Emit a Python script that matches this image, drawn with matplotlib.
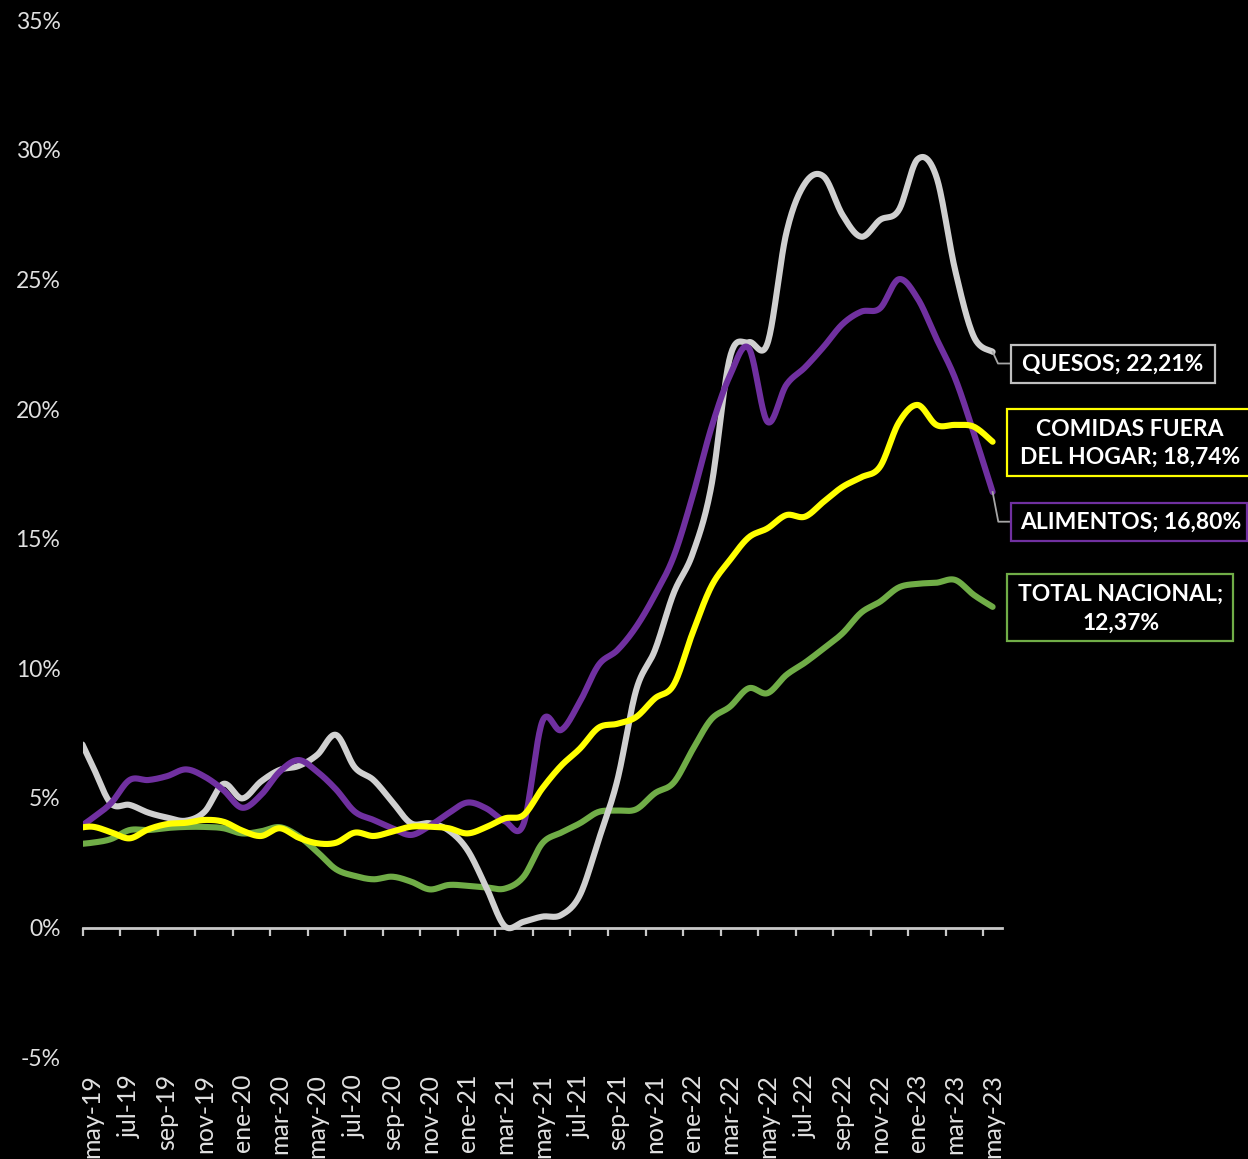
import numpy as np
import matplotlib
matplotlib.use("Agg")
import matplotlib.pyplot as plt
from matplotlib.patches import Rectangle
from matplotlib.lines import Line2D

# ---------------- data ----------------
months = ['abr-19',
          'may-19', 'jun-19', 'jul-19', 'ago-19', 'sep-19', 'oct-19', 'nov-19', 'dic-19',
          'ene-20', 'feb-20', 'mar-20', 'abr-20', 'may-20', 'jun-20', 'jul-20', 'ago-20',
          'sep-20', 'oct-20', 'nov-20', 'dic-20', 'ene-21', 'feb-21', 'mar-21', 'abr-21',
          'may-21', 'jun-21', 'jul-21', 'ago-21', 'sep-21', 'oct-21', 'nov-21', 'dic-21',
          'ene-22', 'feb-22', 'mar-22', 'abr-22', 'may-22', 'jun-22', 'jul-22', 'ago-22',
          'sep-22', 'oct-22', 'nov-22', 'dic-22', 'ene-23', 'feb-23', 'mar-23', 'abr-23',
          'may-23']

quesos = [7.8, 6.28, 4.79, 4.73, 4.43, 4.24, 4.12, 4.47, 5.54, 4.98, 5.63, 6.08, 6.23,
          6.66, 7.43, 6.18, 5.69, 4.85, 4.02, 4.02, 3.75, 3.0, 1.57, 0.05, 0.22, 0.42,
          0.48, 1.25, 3.38, 5.69, 9.16, 10.7, 12.9, 14.4, 17.0, 22.0, 22.58, 22.54,
          26.78, 28.71, 28.97, 27.49, 26.65, 27.3, 27.68, 29.64, 28.97, 25.37, 22.79, 22.21]

alimentos = [3.7, 4.21, 4.79, 5.69, 5.69, 5.84, 6.1, 5.82, 5.3, 4.62, 5.11, 6.01, 6.46,
             6.01, 5.33, 4.47, 4.15, 3.83, 3.57, 3.92, 4.41, 4.82, 4.6, 4.1, 4.0, 7.95,
             7.62, 8.71, 10.13, 10.7, 11.6, 12.83, 14.31, 16.62, 19.26, 21.3, 22.35, 19.51,
             20.93, 21.61, 22.41, 23.28, 23.76, 23.89, 25.01, 24.27, 22.73, 21.19, 19.07, 16.80]

comidas = [3.8, 3.89, 3.68, 3.44, 3.79, 3.99, 4.04, 4.15, 4.08, 3.74, 3.53, 3.83, 3.47,
           3.25, 3.27, 3.66, 3.53, 3.7, 3.89, 3.89, 3.83, 3.63, 3.87, 4.21, 4.34, 5.37,
           6.24, 6.9, 7.71, 7.86, 8.12, 8.84, 9.36, 11.35, 13.15, 14.18, 15.05, 15.4,
           15.91, 15.85, 16.43, 17.0, 17.37, 17.78, 19.48, 20.16, 19.39, 19.39, 19.32, 18.74]

total = [3.2, 3.27, 3.41, 3.76, 3.76, 3.84, 3.88, 3.88, 3.83, 3.63, 3.71, 3.87, 3.53,
         2.92, 2.25, 1.99, 1.86, 1.96, 1.77, 1.47, 1.64, 1.61, 1.55, 1.5, 1.96, 3.25,
         3.66, 4.02, 4.46, 4.51, 4.56, 5.18, 5.59, 6.85, 8.03, 8.52, 9.23, 9.04, 9.74,
         10.22, 10.77, 11.35, 12.15, 12.57, 13.12, 13.26, 13.3, 13.41, 12.83, 12.37]

label_quesos = "QUESOS; 22,21%"
label_comidas = ["COMIDAS FUERA", "DEL HOGAR; 18,74%"]
label_alimentos = "ALIMENTOS; 16,80%"
label_total = ["TOTAL NACIONAL;", "12,37%"]

yticks = [-5, 0, 5, 10, 15, 20, 25, 30, 35]

# ---------------- helpers ----------------
W, H = 1248, 1159
FONT = ['Lato', 'DejaVu Sans']


def smooth(x, y, n=24):
    """Excel-like smoothed line (Catmull-Rom as cubic Bezier)."""
    x = np.asarray(x, float)
    y = np.asarray(y, float)
    P = np.column_stack([x, y])
    P = np.vstack([P[0], P, P[-1]])
    out = []
    t = np.linspace(0, 1, n, endpoint=False)[:, None]
    for k in range(1, len(P) - 2):
        p0, p1, p2, p3 = P[k - 1], P[k], P[k + 1], P[k + 2]
        c1 = p1 + (p2 - p0) / 6.0
        c2 = p2 - (p3 - p1) / 6.0
        seg = ((1 - t) ** 3) * p1 + 3 * ((1 - t) ** 2) * t * c1 + 3 * (1 - t) * t ** 2 * c2 + t ** 3 * p2
        out.append(seg)
    out.append(P[-2][None, :])
    out = np.vstack(out)
    return out[:, 0], out[:, 1]


def fx(px):
    return px / W


def fy(py):
    return 1 - py / H


# ---------------- figure ----------------
fig = plt.figure(figsize=(W / 100, H / 100), dpi=100, facecolor='black')
ax = fig.add_axes([fx(82.7), fy(1057.1), (1002 - 82.7) / W, (1057.1 - 20.3) / H])
ax.set_facecolor('black')

xs = np.arange(len(months)) - 1  # 'abr-19' sits at -1, 'may-19' at 0

series = [
    (total, '#70ad47'),
    (quesos, '#d0d0d0'),
    (alimentos, '#7030a0'),
    (comidas, '#ffff00'),
]
for vals, col in series:
    sx, sy = smooth(xs, vals)
    ax.plot(sx, sy, color=col, lw=4.4, solid_capstyle='round', solid_joinstyle='round', zorder=3)

ax.set_xlim(-0.5, 48.5)
ax.set_ylim(-5, 35)

# y axis
ax.set_yticks(yticks)
ax.set_yticklabels([f"{v}%" for v in yticks], fontsize=16.5, color='#e0e0e0', family=FONT)
ax.tick_params(axis='y', length=0, pad=16)

for s in ['left', 'right', 'top']:
    ax.spines[s].set_visible(False)
ax.spines['bottom'].set_position(('data', 0))
ax.spines['bottom'].set_color('#c8c8c8')
ax.spines['bottom'].set_linewidth(2)

# tick marks on the zero line (between categories, every 2 months)
ax.set_xticks(np.arange(-0.5, 48.6, 2))
ax.tick_params(axis='x', direction='out', length=6, width=1.6, color='#c8c8c8', labelbottom=False)

# labels at the bottom of the plot
sec = ax.secondary_xaxis('bottom')
lab_pos = np.arange(0, 49, 2)
sec.set_xticks(lab_pos)
sec.set_xticklabels([months[i + 1] for i in lab_pos], rotation=90, fontsize=18,
                    color='#e0e0e0', family=FONT)
sec.tick_params(length=0, pad=12)
sec.spines['bottom'].set_visible(False)

# ---------------- end labels ----------------
def box(x0, y0, x1, y1, col):
    r = Rectangle((fx(x0), fy(y1)), fx(x1) - fx(x0), fy(y0) - fy(y1), transform=fig.transFigure,
                  facecolor='black', edgecolor=col, lw=1.6, zorder=5, clip_on=False)
    fig.add_artist(r)


def btext(xc, yc, s):
    fig.text(fx(xc), fy(yc), s, ha='center', va='center', color='white', fontsize=16.5,
             fontweight='bold', family=FONT, zorder=6)


def end_px(vals):
    d = ax.transData.transform((48, vals[-1]))
    return d[0], H - d[1]


def leader(vals, pts):
    ex, ey = end_px(vals)
    xx = [ex] + [p[0] for p in pts]
    yy = [ey] + [p[1] for p in pts]
    fig.add_artist(Line2D([fx(v) for v in xx], [fy(v) for v in yy], transform=fig.transFigure,
                          color='#a6a6a6', lw=1.3, zorder=4))


leader(quesos, [(998, 363.5), (1010.7, 363.5)])
box(1010.7, 345, 1215, 382.7, '#bfbfbf')
btext(1113, 364.5, label_quesos)

box(1007.3, 409, 1252, 475.7, '#ffff00')
btext(1130, 429.5, label_comidas[0])
btext(1130, 457.5, label_comidas[1])

leader(alimentos, [(998.3, 521.7), (1010.7, 521.7)])
box(1010.7, 502.7, 1246.7, 540.7, '#7030a0')
btext(1131, 522, label_alimentos)

box(1007.3, 574, 1233.3, 640.7, '#70ad47')
btext(1121, 594, label_total[0])
btext(1121, 623, label_total[1])

fig.savefig('out.png', dpi=100, facecolor='black')
